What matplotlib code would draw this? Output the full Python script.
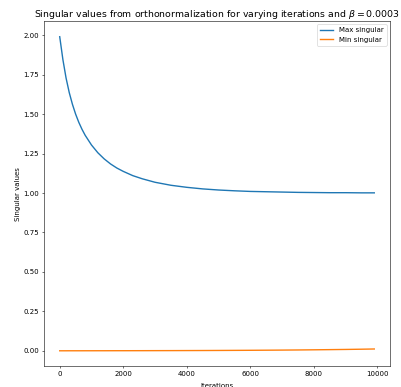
import numpy as np
import matplotlib
matplotlib.use('Agg')
import matplotlib.pyplot as plt

# iterations sampled along the run
iterations = [0, 100, 200, 300, 400, 500, 600, 700, 800, 1000, 1200, 1400,
              1600, 1800, 2000, 2300, 2600, 3000, 3500, 4000, 4500, 5000,
              5500, 6000, 6500, 7000, 7500, 8000, 8500, 9000, 9500, 9900]

# largest singular value
max_singular = [1.990, 1.845, 1.728, 1.636, 1.562, 1.500, 1.448, 1.404,
                1.366, 1.304, 1.255, 1.216, 1.184, 1.158, 1.137, 1.110,
                1.090, 1.068, 1.049, 1.036, 1.026, 1.019, 1.014, 1.010,
                1.008, 1.006, 1.004, 1.003, 1.002, 1.002, 1.001, 1.001]

# smallest singular value, barely above zero
min_singular = [0.0006, 0.0006, 0.0006, 0.0007, 0.0007, 0.0007, 0.0007, 0.0007,
                0.0008, 0.0008, 0.0009, 0.0009, 0.0010, 0.0011, 0.0011, 0.0012,
                0.0013, 0.0015, 0.0017, 0.0020, 0.0023, 0.0027, 0.0032, 0.0037,
                0.0043, 0.0050, 0.0058, 0.0068, 0.0079, 0.0091, 0.0106, 0.0120]

beta = 0.0003

fig = plt.figure(figsize=(8.02, 7.74), dpi=50)
ax = fig.add_axes([0.1097, 0.053, 0.8629, 0.8927])
ax.plot(iterations, max_singular, label='Max singular', linewidth=2)
ax.plot(iterations, min_singular, label='Min singular', linewidth=2)
ax.set_title(r'Singular values from orthonormalization for varying iterations and $\beta = %s$' % beta,
             fontsize=13.5)
# the label sits partly below the bottom edge, as in the original crop
ax.set_xlabel('Iterations', labelpad=7.5)
ax.set_ylabel('Singular values')
ax.legend(loc='upper right')

fig.savefig('out.png', dpi=50)
